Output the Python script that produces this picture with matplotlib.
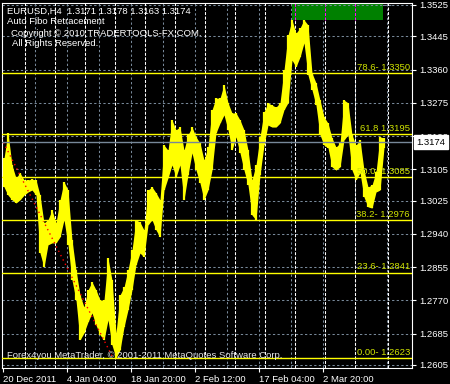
import numpy as np
import matplotlib
matplotlib.use('Agg')
import matplotlib.pyplot as plt
from matplotlib import transforms
from matplotlib.patches import Rectangle

# EURUSD H4, one sample per 4 bars (high / low)
highs = [1.3134, 1.3198, 1.3116, 1.3083, 1.3096, 1.3078, 1.3078, 1.3080, 1.3078, 1.3039,
         1.2968, 1.2976, 1.3001, 1.2968, 1.3027, 1.3073, 1.3052, 1.2924, 1.2848, 1.2784,
         1.2753, 1.2797, 1.2817, 1.2797, 1.2771, 1.2771, 1.2878, 1.2822, 1.2687, 1.2784,
         1.2804, 1.2848, 1.2899, 1.2976, 1.2970, 1.2950, 1.3052, 1.3060, 1.3045, 1.3027,
         1.3167, 1.3154, 1.3231, 1.3206, 1.3213, 1.3154, 1.3193, 1.3213, 1.3188, 1.3172,
         1.3129, 1.3162, 1.3257, 1.3287, 1.3287, 1.3321, 1.3275, 1.3249, 1.3249, 1.3231,
         1.3206, 1.3154, 1.3078, 1.3116, 1.3188, 1.3252, 1.3275, 1.3269, 1.3264, 1.3275,
         1.3359, 1.3448, 1.3487, 1.3453, 1.3466, 1.3487, 1.3474, 1.3351, 1.3326, 1.3282,
         1.3239, 1.3223, 1.3185, 1.3162, 1.3172, 1.3282, 1.3275, 1.3193, 1.3167, 1.3180,
         1.3103, 1.3060, 1.3065, 1.3098, 1.3188, 1.3185]
lows = [1.3060, 1.3039, 1.3027, 1.3019, 1.3027, 1.3039, 1.3047, 1.3052, 1.3039, 1.2891,
        1.2855, 1.2912, 1.2917, 1.2917, 1.2932, 1.2976, 1.2912, 1.2822, 1.2771, 1.2669,
        1.2687, 1.2715, 1.2738, 1.2707, 1.2682, 1.2669, 1.2720, 1.2656, 1.2623, 1.2643,
        1.2702, 1.2746, 1.2797, 1.2861, 1.2891, 1.2881, 1.2963, 1.2976, 1.2950, 1.2932,
        1.3052, 1.3083, 1.3116, 1.3085, 1.3116, 1.3027, 1.3091, 1.3147, 1.3103, 1.3070,
        1.3027, 1.3052, 1.3103, 1.3198, 1.3223, 1.3244, 1.3206, 1.3154, 1.3188, 1.3147,
        1.3103, 1.3065, 1.2988, 1.2976, 1.3091, 1.3167, 1.3218, 1.3213, 1.3213, 1.3223,
        1.3257, 1.3275, 1.3384, 1.3367, 1.3392, 1.3428, 1.3346, 1.3308, 1.3269, 1.3193,
        1.3167, 1.3160, 1.3111, 1.3103, 1.3111, 1.3180, 1.3193, 1.3103, 1.3078, 1.3096,
        1.3034, 1.3009, 1.3006, 1.3047, 1.3052, 1.3160]

last_ohlc = [1.3171, 1.3178, 1.3163, 1.3174]
current_price = 1.3174

time_labels = ['20 Dec 2011', '4 Jan 04:00', '18 Jan 20:00', '2 Feb 12:00',
               '17 Feb 04:00', '2 Mar 20:00']
price_ticks = [1.3525, 1.3445, 1.3360, 1.3275, 1.3190, 1.3105, 1.3025,
               1.2940, 1.2855, 1.2770, 1.2685, 1.2605]

fibo_prices = [1.3350, 1.3195, 1.3085, 1.2976, 1.2841, 1.2623]
fibo_labels = ['78.6- 1.3350', '61.8 1.3195', '50.0- 1.3085', '38.2- 1.2976',
               '23.6- 1.2841', '0.00- 1.2623']
fibo_high = 1.3548
fibo_low = 1.2623
zone_low = 1.3487

FONT = ['Liberation Sans', 'DejaVu Sans']
FS = 6.8
GRID = '#778899'
LABEL = '#d0e400'

fig = plt.figure(figsize=(4.5, 3.84), dpi=100, facecolor='black')
ax = fig.add_axes([2 / 450, 16 / 384, 410 / 450, 365 / 384], facecolor='black')

x = np.arange(len(highs))
ax.set_xlim(-0.5, 102)
ax.set_ylim(1.25973, 1.35301)

# grid (gray dashed) and weekly separators (white dotted)
for p in price_ticks:
    ax.axhline(p, color=GRID, lw=0.75, ls=(0, (2.2, 2.2)), zorder=1)
for k in range(1, 13):
    ax.axvline(-0.25 + 8 * k, color=GRID, lw=0.75, ls=(0, (2.2, 2.2)), zorder=1)
seps = [5.125 + 7.5 * k for k in range(12)] + [96.0]
for s in seps:
    ax.axvline(s, color='white', lw=0.75, ls=(0, (2.9, 1.45)), zorder=1)

# target zone rectangle
ax.add_patch(Rectangle((72, zone_low), 22.75, fibo_high - zone_low,
                       color='#008000', zorder=2, lw=0))
for s in seps:
    if 72 < s < 94.75:
        ax.vlines(s, zone_low, 1.35301, color='#ff00ff', lw=0.75,
                  ls=(0, (2.9, 1.45)), zorder=2.1)
ax.axhline(1.3525, xmin=0.72, xmax=0.95, color=GRID, lw=0.75,
           ls=(0, (2.2, 2.2)), zorder=2.1)

# price bars
ax.fill_between(x, lows, highs, color='#ffff00', lw=0, zorder=3)
ax.vlines(x, lows, highs, color='#ffff00', lw=1.6, zorder=3)

# fibo trend line (high -> low)
ax.plot([-18.75, 27.25], [fibo_high, fibo_low], color='red', lw=1,
        ls=(0, (1, 2.5)), zorder=3.5)

# fibo levels
for p, lab in zip(fibo_prices, fibo_labels):
    ax.axhline(p, color='#ffff00', lw=1, zorder=4)
    ax.text(101.5, p + 0.0003, lab, ha='right', va='bottom', color=LABEL,
            fontsize=FS, family=FONT, zorder=5)

# current price line
ax.axhline(current_price, color=GRID, lw=1, zorder=4)

# axes styling
for sp in ax.spines.values():
    sp.set_color('white')
    sp.set_linewidth(0.8)
ax.yaxis.tick_right()
ax.set_yticks(price_ticks)
ax.set_yticklabels(['%.4f' % p for p in price_ticks])
ax.set_xticks([-0.25 + 16 * k for k in range(len(time_labels))])
ax.set_xticklabels(time_labels)
for t in ax.get_xticklabels():
    t.set_horizontalalignment('left')
ax.tick_params(colors='white', labelcolor='white', length=3, width=0.8,
               pad=2, labelsize=FS)
for t in ax.get_xticklabels() + ax.get_yticklabels():
    t.set_family(FONT)

# current price box on the axis
tr = transforms.blended_transform_factory(ax.transAxes, ax.transData)
ax.text(1.011, current_price, '%.4f' % current_price, transform=tr,
        ha='left', va='center', color='black', fontsize=FS, family=FONT,
        bbox=dict(boxstyle='square,pad=0.28', fc='white', ec='white'),
        zorder=10)

# header texts
hdr = 'EURUSD,H4  ' + ' '.join('%.4f' % v for v in last_ohlc)
fig.text(7 / 450, 1 - 11 / 384, hdr, color='white', fontsize=FS, family=FONT,
         va='center')
fig.text(7 / 450, 1 - 22 / 384, 'Auto Fibo Retracement', color='white',
         fontsize=FS, family=FONT, va='center')
fig.text(11 / 450, 1 - 33 / 384, 'Copyright \u00a9 2010 TRADERTOOLS-FX.COM.',
         color='white', fontsize=FS, family=FONT, va='center')
fig.text(12 / 450, 1 - 44 / 384, 'All Rights Reserved.', color='white',
         fontsize=FS, family=FONT, va='center')
fig.text(7 / 450, 1 - 356 / 384,
         'Forex4you MetaTrader, \u00a9 2001-2011 MetaQuotes Software Corp.',
         color='#e8e8e8', fontsize=FS, family=FONT, va='center', zorder=20)

fig.savefig('out.png', dpi=100, facecolor='black')
